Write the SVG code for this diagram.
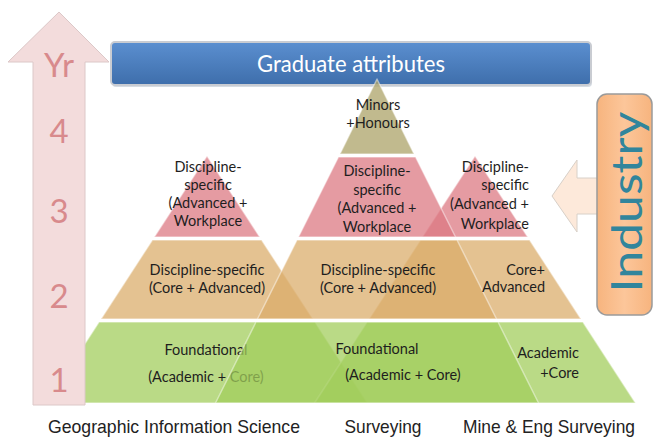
<svg xmlns="http://www.w3.org/2000/svg" width="654" height="441" viewBox="0 0 654 441">
  <defs>
    <linearGradient id="barFill" x1="0" y1="0" x2="0" y2="1">
      <stop offset="0" stop-color="#5b8fd0"/>
      <stop offset="1" stop-color="#3e6eab"/>
    </linearGradient>
    <linearGradient id="industryFill" x1="0" y1="0" x2="1" y2="0">
      <stop offset="0" stop-color="#f7b47e"/>
      <stop offset="0.5" stop-color="#fcc69a"/>
      <stop offset="1" stop-color="#f7b47e"/>
    </linearGradient>
  </defs>
  <style>
    .tier { stroke: #ffffff; stroke-opacity: 0.45; stroke-width: 1.5; stroke-linejoin: round; }
    .red { fill: #dc7882; fill-opacity: 0.74; }
    .olive { fill: #b0a66e; fill-opacity: 0.78; }
    .tan { fill: #dbad6a; fill-opacity: 0.74; }
    .green { fill: #a2cd5c; fill-opacity: 0.74; }
    .t { font-family: Lato, "Open Sans", sans-serif; font-size: 14.5px; fill: #1e1e1e; text-anchor: middle; }
    .tr { text-anchor: end; }
    .yr { font-family: Lato, "Open Sans", sans-serif; font-size: 33px; fill: #d88a8c; text-anchor: middle; }
    .cap { font-family: "Liberation Sans", Arial, sans-serif; font-size: 19px; fill: #222; text-anchor: middle; }
  </style>

  <rect width="654" height="441" fill="#ffffff"/>

  <!-- graduate attributes banner -->
  <g id="graduate-attributes">
    <rect x="112" y="44" width="480" height="43" rx="4" fill="#8a9cb0" opacity="0.35"/>
    <rect x="111" y="42" width="480" height="43" rx="4" fill="url(#barFill)" stroke="#c9ccd2" stroke-width="2"/>
    <text x="351" y="72" font-family="Lato, 'Open Sans', sans-serif" font-size="23" fill="#ffffff" text-anchor="middle" textLength="188" lengthAdjust="spacingAndGlyphs">Graduate attributes</text>
  </g>

  <!-- Geographic Information Science pyramid -->
  <g id="pyramid-gis">
    <polygon class="tier green" points="99,322 315,322 367.5,403 46.5,403"/>
    <polygon class="tier tan" points="152.4,240 261.6,240 313,319 101,319"/>
    <polygon class="tier red" points="207,156 259.7,237 154.3,237"/>
    <text class="t" x="208" y="172">Discipline-</text>
    <text class="t" x="208" y="190">specific</text>
    <text class="t" x="208" y="208">(Advanced +</text>
    <text class="t" x="208" y="226">Workplace</text>
    <text class="t" x="207" y="275">Discipline-specific</text>
    <text class="t" x="207" y="293">(Core + Advanced)</text>
    <text class="t" x="206" y="355">Foundational</text>
    <text class="t" x="206" y="382">(Academic + Core)</text>
  </g>

  <!-- Mine & Eng Surveying pyramid -->
  <g id="pyramid-mine">
    <polygon class="tier green" points="367.1,322 582.9,322 635.5,403 314.5,403"/>
    <polygon class="tier tan" points="420.4,240 529.6,240 581,319 369,319"/>
    <polygon class="tier red" points="475,156 527.7,237 422.3,237"/>
  </g>

  <!-- Surveying pyramid -->
  <g id="pyramid-surveying">
    <polygon class="tier green" points="256,322 498,322 538.5,403 215.5,403"/>
    <polygon class="tier tan" points="297,240 457,240 496.5,319 257.5,319"/>
    <polygon class="tier red" points="338.5,157 415.5,157 455.5,237 298.5,237"/>
    <polygon class="tier olive" points="377,79 414,154 340,154"/>
    <text class="t" x="378" y="110">Minors</text>
    <text class="t" x="378" y="128">+Honours</text>
    <text class="t" x="377" y="176">Discipline-</text>
    <text class="t" x="377" y="195">specific</text>
    <text class="t" x="377" y="213">(Advanced +</text>
    <text class="t" x="377" y="232">Workplace</text>
    <text class="t" x="378" y="275">Discipline-specific</text>
    <text class="t" x="378" y="293">(Core + Advanced)</text>
    <text class="t" x="377" y="354">Foundational</text>
    <text class="t" x="403" y="380">(Academic + Core)</text>
  </g>

  <!-- labels of the Mine & Eng Surveying pyramid, drawn over the overlaps -->
  <g id="pyramid-mine-labels">
    <text class="t tr" x="529" y="172">Discipline-</text>
    <text class="t tr" x="529" y="190">specific</text>
    <text class="t tr" x="529" y="209">(Advanced +</text>
    <text class="t tr" x="529" y="229">Workplace</text>
    <text class="t tr" x="545" y="275">Core+</text>
    <text class="t tr" x="545" y="292">Advanced</text>
    <text class="t tr" x="579" y="358">Academic</text>
    <text class="t tr" x="579" y="378">+Core</text>
  </g>

  <!-- year axis -->
  <g id="year-axis">
    <path d="M59,12 L109,62 L85,62 L85,405 L33,405 L33,62 L8,62 Z" fill="#f3dcdc" stroke="#dcc8c8" stroke-width="1"/>
    <text class="yr" x="59" y="77">Yr</text>
    <text class="yr" x="59" y="143">4</text>
    <text class="yr" x="59" y="223">3</text>
    <text class="yr" x="59" y="308">2</text>
    <text class="yr" x="59" y="392">1</text>
  </g>

  <!-- industry input -->
  <g id="connectors">
    <path d="M552,196 L577,160 L577,178 L598,178 L598,214 L577,214 L577,232 Z" fill="#fde9da" stroke="#d8d0c8" stroke-width="1"/>
  </g>
  <g id="industry">
    <rect x="597" y="94" width="55" height="221" rx="10" fill="url(#industryFill)" stroke="#9a9a9a" stroke-width="1.5"/>
    <text transform="translate(642,202) rotate(-90)" x="0" y="0" font-family="Lato, 'Open Sans', sans-serif" font-size="42" fill="#31859c" text-anchor="middle" textLength="181" lengthAdjust="spacingAndGlyphs">Industry</text>
  </g>

  <!-- programme captions -->
  <g id="captions">
    <text class="cap" x="174" y="433" textLength="252" lengthAdjust="spacingAndGlyphs">Geographic Information Science</text>
    <text class="cap" x="383" y="433" textLength="77" lengthAdjust="spacingAndGlyphs">Surveying</text>
    <text class="cap" x="549" y="433" textLength="172" lengthAdjust="spacingAndGlyphs">Mine &amp; Eng Surveying</text>
  </g>
</svg>
